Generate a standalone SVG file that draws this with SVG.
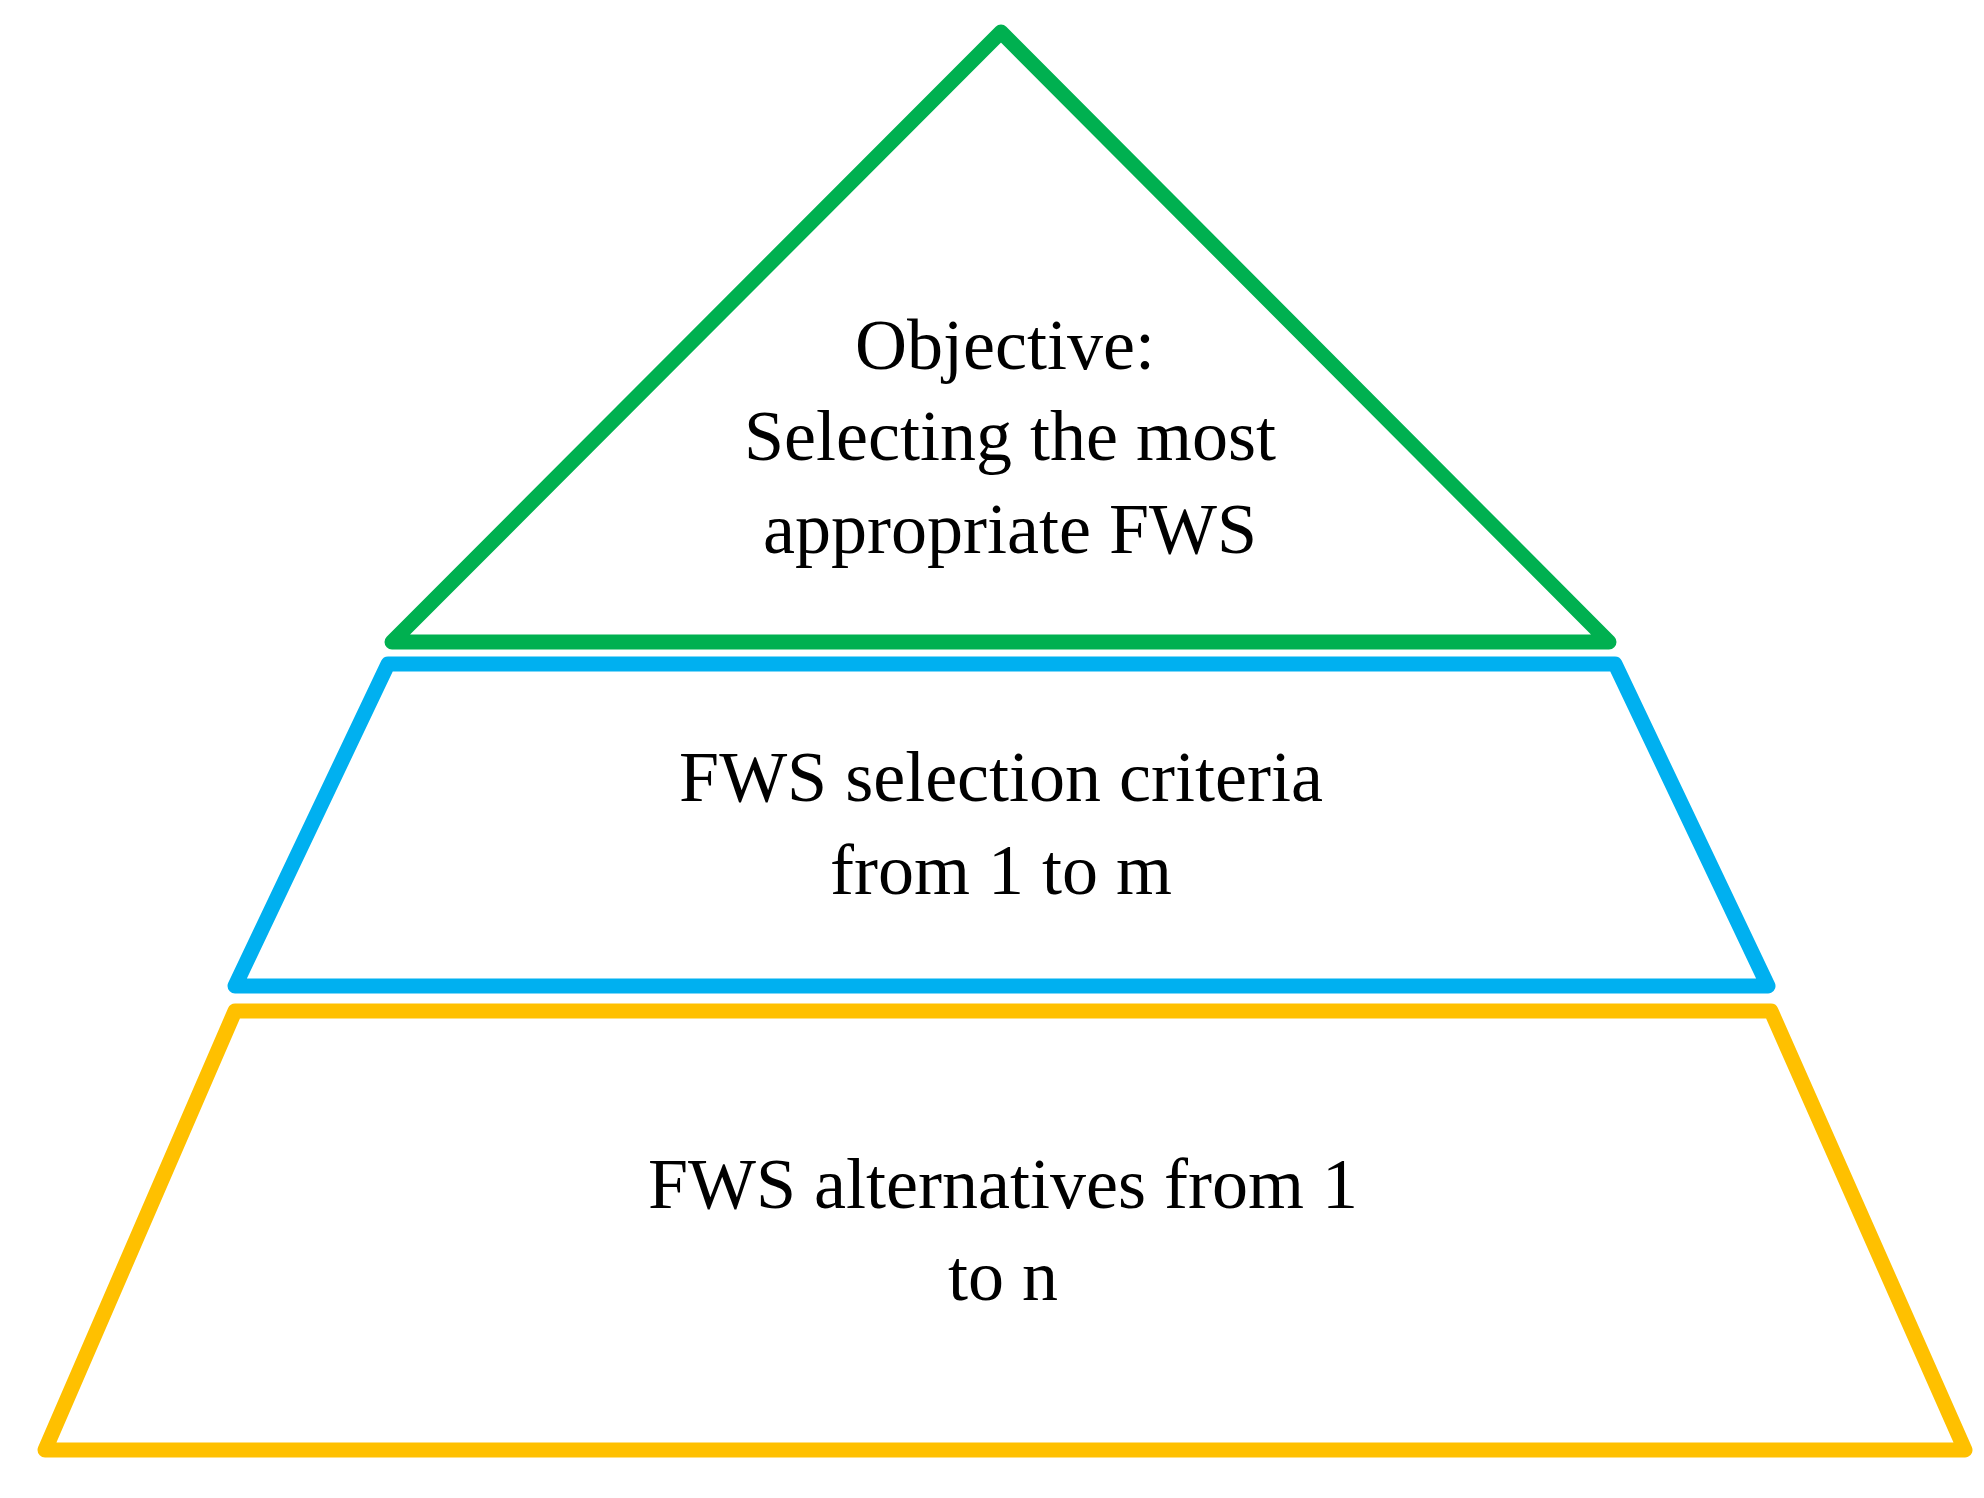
<svg xmlns="http://www.w3.org/2000/svg" width="1984" height="1498" viewBox="0 0 1984 1498">
<style>
.s{fill:none;stroke-width:15;stroke-linejoin:round}
text{font-family:"Liberation Serif",serif;font-size:72px;fill:#000;text-anchor:middle}
</style>
<rect width="1984" height="1498" fill="#fff"/>
<g id="objective">
<polygon class="s" stroke="#00B050" points="1001,32 1609,642 392,642"/>
<text x="1005" y="369">Objective:</text>
<text x="1010" y="460">Selecting the most</text>
<text x="1010" y="553">appropriate FWS</text>
</g>
<g id="criteria">
<polygon class="s" stroke="#00B0F0" points="388,664 1615,664 1768,986 235,986"/>
<text x="1001" y="801">FWS selection criteria</text>
<text x="1001" y="894">from 1 to m</text>
</g>
<g id="alternatives">
<polygon class="s" stroke="#FFC000" points="235,1011 1771,1011 1965,1450 45,1450"/>
<text x="1003" y="1208">FWS alternatives from 1</text>
<text x="1003" y="1300">to n</text>
</g>
<g id="connectors"></g>
</svg>
